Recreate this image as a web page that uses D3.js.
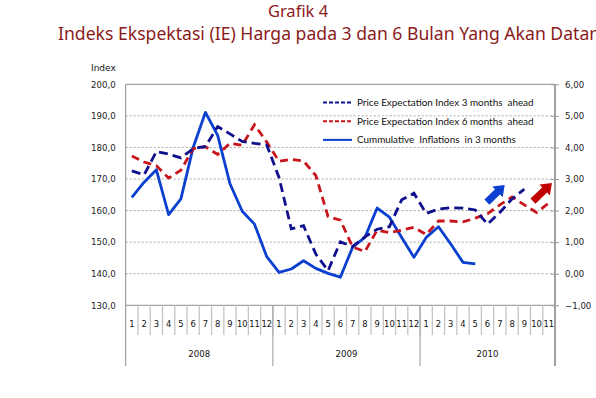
<!DOCTYPE html>
<html><head><meta charset="utf-8">
<script src="https://cdn.jsdelivr.net/npm/d3@7"></script>
<style>
html,body{margin:0;padding:0;background:#fff;}
svg{display:block;}
</style></head>
<body>
<svg id="c" width="596" height="398"></svg>
<script>
// ---------- DATA ----------
const monthLabels = [1,2,3,4,5,6,7,8,9,10,11,12, 1,2,3,4,5,6,7,8,9,10,11,12, 1,2,3,4,5,6,7,8,9,10,11];
const years = ["2008","2009","2010"];
const yearMonths = [12,12,11];
const leftTicks = [130,140,150,160,170,180,190,200];
const rightTicks = [-1,0,1,2,3,4,5,6];
// Price Expectation Index 3 months ahead (left axis)
const pe3 = [172.6,171.3,178.7,177.9,176.7,179.6,180.3,186.6,184.3,181.9,181.3,180.8,
             170.5,154.2,155.2,146.2,141.0,150.1,148.6,151.7,154.1,154.9,163.4,165.5,
             159.1,160.5,160.9,160.8,160.2,155.7,159.4,163.7,166.8];
// Price Expectation Index 6 months ahead (left axis)
const pe6 = [177.3,175.4,174.2,170.3,172.8,179.6,180.2,177.8,181.3,180.7,187.2,181.7,
             175.6,176.2,175.7,171.1,158.1,157.0,148.5,147.0,153.8,153.0,153.8,154.7,
             152.4,156.7,156.7,156.4,157.6,159.0,161.8,164.3,161.8,159.4,162.4];
// Cumulative inflation in 3 months (right axis, %)
const infl = [2.42,2.90,3.29,1.87,2.37,4.00,5.11,4.38,2.85,1.98,1.57,0.54,
              0.04,0.15,0.41,0.17,0.01,-0.11,0.84,1.15,2.08,1.79,1.15,0.52,
              1.15,1.49,0.94,0.36,0.31];
// trend arrows (category index, left-axis value) tail -> tip
const arrowColors = ["#0a3fd0","#c00000"];
const arrowTail = [[28.95,162.7],[32.7,163.0]];
const arrowTip  = [[30.4,168.1],[34.25,168.7]];
const legendLabels = ["Price Expectation Index 3 months  ahead","Price Expectation Index 6 months  ahead","Cummulative  Inflations  in 3 months"];

// ---------- CHART ----------
const svg = d3.select("#c");
const L = 125.7, R = 555, T = 84.3, B = 305.3;
const n = monthLabels.length;
const x = d3.scaleBand().domain(d3.range(n)).range([L,R]).padding(0);
const cx = i => x(0) + (i+0.5)*x.bandwidth();
const yL = d3.scaleLinear().domain([130,200]).range([B,T]);
const yR = d3.scaleLinear().domain([-1,6]).range([B,T]);

const navy = "#10108e", red = "#c8141c", blue = "#0a3fd0";
const axisFont = "'DejaVu Sans', Verdana, sans-serif";
const legFont = "Lato, 'Open Sans', sans-serif";

// titles
svg.append("text").attr("x",298).attr("y",17).attr("text-anchor","middle")
  .attr("font-family","'Noto Sans', 'Open Sans', sans-serif").attr("font-size",16.5).attr("fill","#8a1b1b")
  .text("Grafik 4");
svg.append("text").attr("x",58).attr("y",40).attr("text-anchor","start")
  .attr("font-family","'Noto Sans', 'Open Sans', sans-serif").attr("font-size",17.6).attr("fill","#8a1b1b")
  .text("Indeks Ekspektasi (IE) Harga pada 3 dan 6 Bulan Yang Akan Datang");

// gridlines
svg.append("g").selectAll("line").data(leftTicks.filter(v=>v>130 && v<200)).join("line")
  .attr("x1",L).attr("x2",R).attr("y1",d=>yL(d)).attr("y2",d=>yL(d))
  .attr("stroke","#a8a8a8").attr("stroke-width",1).attr("stroke-dasharray","2,2");
// frame top / bottom
svg.append("line").attr("x1",L).attr("x2",R).attr("y1",T).attr("y2",T).attr("stroke","#8c8c8c").attr("stroke-width",1);
svg.append("line").attr("x1",L).attr("x2",R).attr("y1",B).attr("y2",B).attr("stroke","#8c8c8c").attr("stroke-width",1);

// left axis
const gL = svg.append("g").attr("transform",`translate(${L},0)`)
  .call(d3.axisLeft(yL).tickValues(leftTicks).tickSize(0).tickPadding(10)
    .tickFormat(d=>d3.format(".1f")(d).replace(".",",")));
gL.select(".domain").remove();
gL.selectAll("text").attr("font-family",axisFont).attr("font-size",8.6).attr("fill","#222");
svg.append("line").attr("x1",L).attr("x2",L).attr("y1",T).attr("y2",366).attr("stroke","#8c8c8c").attr("stroke-width",1);
svg.append("text").attr("x",91).attr("y",71).attr("font-family",axisFont).attr("font-size",9).attr("fill","#111").text("Index");

// right axis
const gR = svg.append("g").attr("transform",`translate(${R},0)`)
  .call(d3.axisRight(yR).tickValues(rightTicks).tickSize(4).tickPadding(6)
    .tickFormat(d=>d3.format(".2f")(d).replace(".",",")));
gR.select(".domain").remove();
gR.selectAll(".tick line").attr("x1",-4).attr("stroke","#999");
gR.selectAll("text").attr("font-family",axisFont).attr("font-size",8.6).attr("fill","#222");
svg.append("line").attr("x1",R).attr("x2",R).attr("y1",T).attr("y2",366).attr("stroke","#a0a0a0").attr("stroke-width",2);

// x axis: month separators and labels
const sepIdx = d3.range(1,n);
svg.append("g").selectAll("line").data(sepIdx).join("line")
  .attr("x1",d=>x(d)).attr("x2",d=>x(d)).attr("y1",B).attr("y2",335)
  .attr("stroke","#c4c4c4").attr("stroke-width",1.3);
svg.append("g").selectAll("text").data(monthLabels).join("text")
  .attr("x",(d,i)=>cx(i)).attr("y",327).attr("text-anchor","middle")
  .attr("font-family",axisFont).attr("font-size",8.4).attr("fill","#111").text(d=>d);
// year separators & labels
const yearStarts = d3.cumsum([0].concat(yearMonths)).slice(0,-1);
svg.append("g").selectAll("line").data(yearStarts.slice(1)).join("line")
  .attr("x1",d=>x(d)).attr("x2",d=>x(d)).attr("y1",B).attr("y2",366)
  .attr("stroke","#a8a8a8").attr("stroke-width",1.2);
svg.append("g").selectAll("text").data(years).join("text")
  .attr("x",(d,i)=>(cx(yearStarts[i]) + cx(yearStarts[i]+yearMonths[i]-1))/2).attr("y",357)
  .attr("text-anchor","middle").attr("font-family",axisFont).attr("font-size",8.6).attr("fill","#111").text(d=>d);

// series
const lineL = d3.line().x((d,i)=>cx(i)).y(d=>yL(d));
const lineR = d3.line().x((d,i)=>cx(i)).y(d=>yR(d));
svg.append("path").datum(infl).attr("d",lineR).attr("fill","none").attr("stroke",blue)
  .attr("stroke-width",2.8).attr("stroke-linejoin","round");
svg.append("path").datum(pe6).attr("d",lineL).attr("fill","none").attr("stroke",red)
  .attr("stroke-width",2.8).attr("stroke-dasharray","8,5");
svg.append("path").datum(pe3).attr("d",lineL).attr("fill","none").attr("stroke",navy)
  .attr("stroke-width",2.8).attr("stroke-dasharray","9,5");

// arrows
arrowColors.forEach((col,k)=>{
  const x0 = x(0) + (arrowTail[k][0]+0.5)*x.bandwidth(), y0 = yL(arrowTail[k][1]);
  const x1 = x(0) + (arrowTip[k][0]+0.5)*x.bandwidth(),  y1 = yL(arrowTip[k][1]);
  const len = Math.hypot(x1-x0,y1-y0), ang = Math.atan2(y1-y0,x1-x0)*180/Math.PI;
  const sw = 3.6, hw = 7.5, hl = 10;
  const pts = [[0,-sw],[len-hl,-sw],[len-hl,-hw],[len,0],[len-hl,hw],[len-hl,sw],[0,sw]];
  svg.append("path").attr("d","M"+pts.map(p=>p.join(",")).join("L")+"Z")
    .attr("transform",`translate(${x0},${y0}) rotate(${ang})`).attr("fill",col);
});

// legend
const legColors = [navy, red, blue];
const legDash = ["4,2","4,2",null];
const lg = svg.append("g");
legendLabels.forEach((t,k)=>{
  const yy = 102.5 + k*18.7;
  lg.append("line").attr("x1",323).attr("x2",352).attr("y1",yy).attr("y2",yy)
    .attr("stroke",legColors[k]).attr("stroke-width",2).attr("stroke-dasharray",legDash[k]);
  lg.append("text").attr("x",357).attr("y",yy+3.4).attr("font-family",legFont).attr("font-size",9.9)
    .attr("fill","#111").style("white-space","pre").attr("xml:space","preserve").text(t);
});
</script>
</body></html>
